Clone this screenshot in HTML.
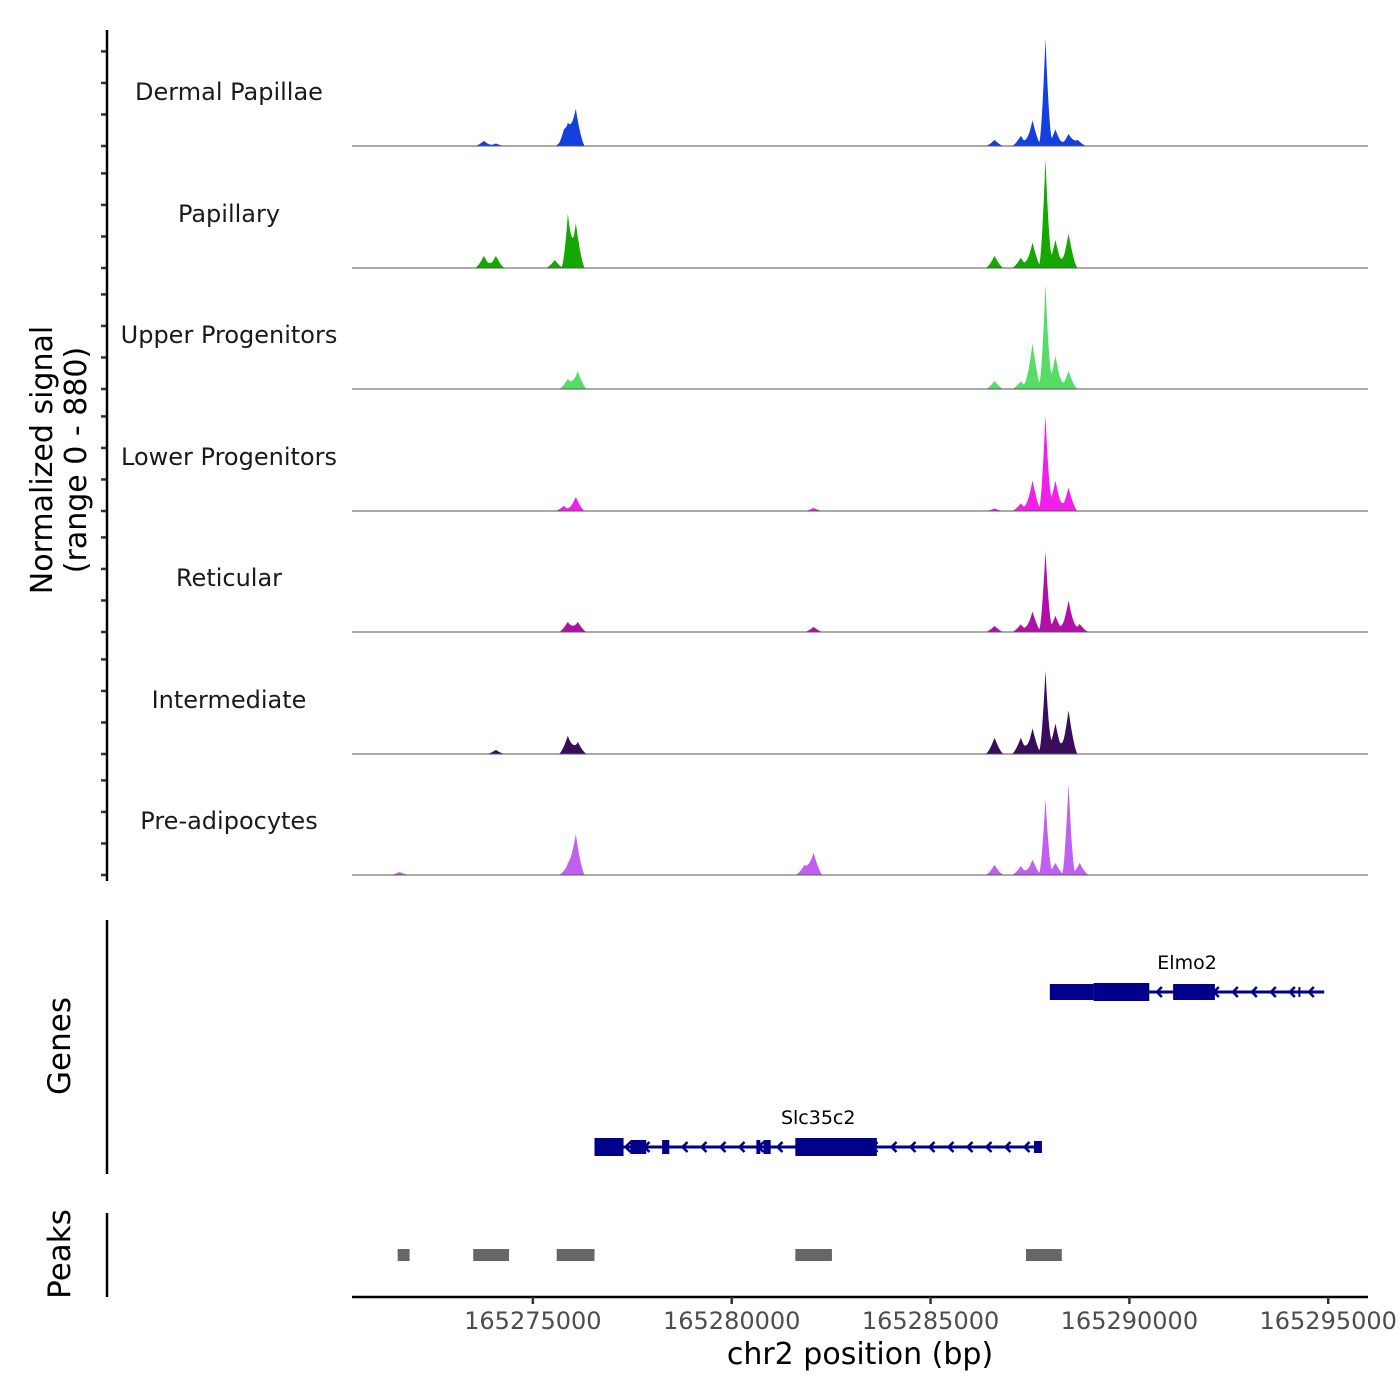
<!DOCTYPE html>
<html><head><meta charset="utf-8"><style>
html,body{margin:0;padding:0;background:#fff}
svg{display:block;font-family:"DejaVu Sans","Liberation Sans",sans-serif}
</style></head><body>
<svg id="c" width="1400" height="1400" viewBox="0 0 1400 1400"></svg>
<script>
const trackNames = ["Dermal Papillae","Papillary","Upper Progenitors","Lower Progenitors","Reticular","Intermediate","Pre-adipocytes"];
const trackColors = ["#1540e0","#14a800","#55dd66","#f020e8","#b010a8","#3a0c5c","#c060f0"];
// peaks per track: [position bp, signal value]
const dpPeaks = [[165273769,40],[165274070,20],[165275780,70],[165275880,140],[165276080,285],[165286610,48],[165287270,80],[165287565,200],[165287890,840],[165288140,130],[165288470,95],[165288700,48]];
const papPeaks = [[165273769,95],[165274070,95],[165275550,63],[165275880,410],[165276080,350],[165286610,95],[165287270,80],[165287565,200],[165287890,850],[165288140,220],[165288470,270]];
const upPeaks = [[165275880,80],[165276130,140],[165286610,63],[165287270,60],[165287565,357],[165287890,815],[165288140,260],[165288470,140]];
const lowPeaks = [[165275780,40],[165276080,110],[165282060,24],[165286610,20],[165287270,60],[165287565,238],[165287890,750],[165288140,238],[165288470,182]];
const retPeaks = [[165275880,80],[165276130,80],[165282060,40],[165286610,48],[165287270,60],[165287565,160],[165287890,630],[165288140,127],[165288470,245],[165288750,63]];
const intPeaks = [[165274070,32],[165275880,143],[165276130,95],[165286610,127],[165287270,127],[165287565,200],[165287890,650],[165288140,238],[165288470,340]];
const prePeaks = [[165271650,24],[165275880,80],[165276080,317],[165281830,80],[165282060,175],[165286610,80],[165287270,70],[165287565,120],[165287890,595],[165288140,95],[165288470,715],[165288750,95]];
const allPeaks = [dpPeaks,papPeaks,upPeaks,lowPeaks,retPeaks,intPeaks,prePeaks];
const xTicks = [165275000,165280000,165285000,165290000,165295000];
const yTickVals = [0,250,500,750];
const peakRegions = [[165271600,165271900],[165273500,165274400],[165275600,165276550],[165281600,165282520],[165287400,165288300]];
const genes = [
 {name:"Elmo2", start:165288000, end:165294900, row:0,
  exons:[[165288000,165289100,8],[165289100,165290500,9],[165291100,165292150,8],[165294250,165294300,5]]},
 {name:"Slc35c2", start:165276550, end:165287800, row:1,
  exons:[[165276550,165277280,9],[165277450,165277850,7],[165278250,165278430,7],[165280620,165280720,7],[165280800,165280980,7],[165281600,165283650,9],[165287600,165287800,6]]}
];

const NS="http://www.w3.org/2000/svg";
const svg=document.getElementById('c');
function el(t,a,p){const e=document.createElementNS(NS,t);for(const k in a)e.setAttribute(k,a[k]);(p||svg).appendChild(e);return e;}
const X0=352,X1=1368, D0=165270452, D1=165296000;
const xs=v=>X0+(v-D0)/(D1-D0)*(X1-X0);
const baselines=[146,268,389,511,632,754,875];
const ys=(v,b)=>b-v/880*113;

allPeaks.forEach((pk,i)=>{
  const b=baselines[i];
  const g=el('g',{});
  
  
  let d='M'+X0+','+b;
  for(let px=X0;px<=X1;px+=0.25){
    const bp=D0+(px-X0)/(X1-X0)*(D1-D0);
    let v=0;
    pk.forEach(([p,h])=>{const w=h>400?160:230;const t=1-Math.abs(bp-p)/w;if(t>0)v+=h*Math.pow(t,1.5);});
    d+=' L'+px+','+ys(v,b).toFixed(1);
  }
  d+=' L'+X1+','+b+' Z';
  const a=el('path',{d:d,fill:trackColors[i]},g);
  
  
  const bl=el('line',{x1:X0,x2:X1,y1:b,y2:b,stroke:'#555','stroke-width':1},g);
  
  
  const tl=el('text',{x:229,y:b-46,'text-anchor':'middle','font-size':24,fill:'#1a1a1a'},g);
  tl.textContent=trackNames[i];
  
  
  yTickVals.forEach(v=>{
    const t=el('line',{x1:101,x2:107,y1:b-v/880*111,y2:b-v/880*111,stroke:'#333','stroke-width':2.5},g);
    
    
  });
});
const ya=el('line',{x1:107,x2:107,y1:30,y2:881,stroke:'#000','stroke-width':2.5});

const yt=el('text',{transform:'translate(52,460) rotate(-90)','text-anchor':'middle','font-size':30,fill:'#000'});

yt.innerHTML='<tspan x="0" dy="0">Normalized signal</tspan><tspan x="0" dy="34">(range 0 - 880)</tspan>';

const ga=el('line',{x1:107,x2:107,y1:920,y2:1174,stroke:'#000','stroke-width':2.5});

const gt=el('text',{transform:'translate(70,1046) rotate(-90)','text-anchor':'middle','font-size':31});
gt.textContent='Genes';
genes.forEach(gn=>{
  const y=gn.row===0?992:1147;
  const g=el('g',{});
  
  
  el('line',{x1:xs(gn.start),x2:xs(gn.end),y1:y,y2:y,stroke:'#00008b','stroke-width':3},g);
  for(let px=xs(gn.start)+12;px<xs(gn.end)-5;px+=19){
    el('path',{d:`M${px+5},${y-5} L${px},${y} L${px+5},${y+5}`,fill:'none',stroke:'#00008b','stroke-width':2.5},g);
  }
  gn.exons.forEach(([s,e,h])=>{
    const r=el('rect',{x:xs(s),y:y-h,width:Math.max(2,xs(e)-xs(s)),height:2*h,fill:'#00008b'},g);
    
  });
  const t=el('text',{x:(xs(gn.start)+xs(gn.end))/2,y:y-23,'text-anchor':'middle','font-size':19,fill:'#000'},g);
  t.textContent=gn.name;
  
});
const pa=el('line',{x1:107,x2:107,y1:1213,y2:1297,stroke:'#000','stroke-width':2.5});

const pt=el('text',{transform:'translate(70,1254) rotate(-90)','text-anchor':'middle','font-size':31});
pt.textContent='Peaks';
peakRegions.forEach(([s,e])=>{
  const r=el('rect',{x:xs(s),y:1249,width:xs(e)-xs(s),height:12,fill:'#666'});
  
});
const xa=el('line',{x1:X0,x2:X1,y1:1297,y2:1297,stroke:'#000','stroke-width':2.5});

xTicks.forEach(v=>{
  const t=el('line',{x1:xs(v),x2:xs(v),y1:1297,y2:1304,stroke:'#333','stroke-width':2.5});
  
  const l=el('text',{x:xs(v),y:1329,'text-anchor':'middle','font-size':24,fill:'#4d4d4d'});
  l.textContent=v;
});
const xt=el('text',{x:860,y:1364,'text-anchor':'middle','font-size':30});
xt.textContent='chr2 position (bp)';
</script>
</body></html>
